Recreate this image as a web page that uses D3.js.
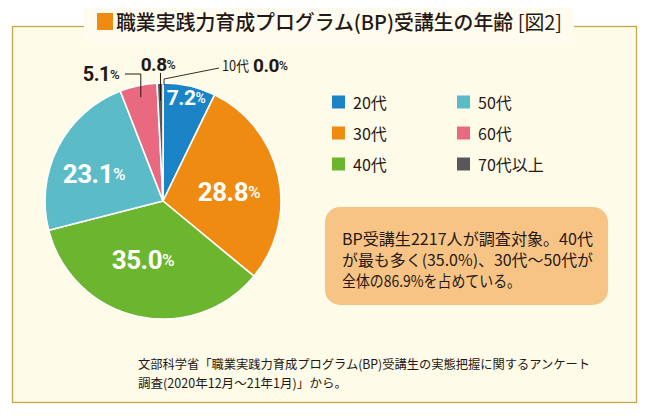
<!DOCTYPE html>
<html><head><meta charset="utf-8">
<script src="https://cdn.jsdelivr.net/npm/d3@7"></script>
<style>
html,body{margin:0;padding:0;background:#fff;}
svg{display:block;}
</style></head>
<body>
<script>
// ---- data ----
const categories = ["10代","20代","30代","40代","50代","60代","70代以上"];
const values = [0.0, 7.2, 28.8, 35.0, 23.1, 5.1, 0.8];
const legendOrder = ["20代","30代","40代","50代","60代","70代以上"];
const colors = ["#1b84c6","#1b84c6","#ef8b10","#6cb52e","#5bbcc8","#e96a80","#58585a"];
const titleText = "職業実践力育成プログラム(BP)受講生の年齢";
const titleFig = "[図2]";
const noteLines = ["BP受講生2217人が調査対象。40代","が最も多く(35.0%)、30代～50代が","全体の86.9%を占めている。"];
const sourceLines = ["文部科学省「職業実践力育成プログラム(BP)受講生の実態把握に関するアンケート","調査(2020年12月～21年1月)」から。"];

const W = 650, H = 416;
const svg = d3.select("body").append("svg").attr("width", W).attr("height", H);
const jp = "'Noto Sans CJK JP','Noto Sans',sans-serif";
const num = "'Roboto','Noto Sans',sans-serif";

// frame
svg.append("rect").attr("x",12.5).attr("y",26.5).attr("width",624).attr("height",376)
  .attr("fill","#fffbe9").attr("stroke","#c6a84c").attr("stroke-width",1.3);
// title cover
svg.append("rect").attr("x",84).attr("y",8).attr("width",490).attr("height",34).attr("fill","#fffcef");
svg.append("rect").attr("x",97).attr("y",13).attr("width",16).attr("height",17).attr("fill","#ef8b10");
const tt = svg.append("text").attr("x",116).attr("y",30).attr("font-family",jp).attr("font-size",20)
  .attr("fill","#231815").attr("textLength",446).attr("lengthAdjust","spacingAndGlyphs");
tt.append("tspan").attr("font-weight",500).text(titleText + " ");
tt.append("tspan").attr("font-weight",400).text(titleFig);

// pie
const cx = 163, cy = 201, R = 118;
const g = svg.append("g").attr("transform",`translate(${cx},${cy})`);
const pie = d3.pie().sort(null).value(d => d.v);
const data = categories.map((c,i)=>({c, v: values[i], col: colors[i]}));
const arcs = pie(data);
const arc = d3.arc().innerRadius(0).outerRadius(R);
g.selectAll("path").data(arcs.filter(a=>a.data.v>0)).join("path")
  .attr("d",arc).attr("fill",d=>d.data.col).attr("stroke","#fff").attr("stroke-width",1.6).attr("stroke-linejoin","round");

// inner labels (white)
const innerPos = {"20代":[23,-103,21],"30代":[66,-9,26],"40代":[-20,59,26],"50代":[-69,-27,26]};
function pctLabel(sel, x, y, val, size, color, anchor){
  const t = sel.append("text").attr("x",x).attr("y",y).attr("text-anchor",anchor||"middle")
    .attr("dominant-baseline","central").attr("font-family",num).attr("font-weight",700).attr("fill",color)
    .attr("letter-spacing",-0.5);
  t.append("tspan").attr("font-size",size).text(val.toFixed(1));
  t.append("tspan").attr("font-size",size*0.66).attr("font-weight",500).text("%");
  return t;
}
arcs.forEach(a=>{
  const p = innerPos[a.data.c];
  if(p) pctLabel(g, p[0], p[1], a.data.v, p[2], "#fff");
});

// outer labels with leaders
const outer = svg.append("g");
const v = c => values[categories.indexOf(c)];
const a60 = arcs[5], a70 = arcs[6], a10 = arcs[0];
const pt = (ang, r) => [cx + r*Math.sin(ang), cy - r*Math.cos(ang)];
// 5.1%
pctLabel(outer, 101, 74, v("60代"), 20, "#231815");
const p60 = pt((a60.startAngle+a60.endAngle)/2, R*0.9);
outer.append("path").attr("d",`M125,74H${p60[0]}V${p60[1]}`).attr("fill","none").attr("stroke","#231815").attr("stroke-width",1);
// 0.8%
pctLabel(outer, 158, 64, v("70代以上"), 19, "#231815");
const p70 = pt((a70.startAngle+a70.endAngle)/2, R*0.85);
outer.append("path").attr("d",`M${p70[0]},73V${p70[1]}`).attr("fill","none").attr("stroke","#231815").attr("stroke-width",1);
// 10代 0.0%
const p10 = pt(a10.startAngle, R+2);
outer.append("path").attr("d",`M${p10[0]+1},${p10[1]+4}L${p10[0]+1},${p10[1]-2}L219,68`).attr("fill","none").attr("stroke","#231815").attr("stroke-width",0.9);
outer.append("text").attr("x",222).attr("y",65).attr("dominant-baseline","central").attr("font-family",jp)
  .attr("font-size",14).attr("fill","#231815").attr("textLength",27).attr("lengthAdjust","spacingAndGlyphs").text(categories[0]);
pctLabel(outer, 253, 65, v("10代"), 19, "#231815", "start");

// legend
const lg = svg.append("g");
legendOrder.forEach((c,i)=>{
  const col = Math.floor(i/3), row = i%3;
  const x = 332 + col*125, y = 102 + row*31;
  lg.append("rect").attr("x",x).attr("y",y-6.5).attr("width",13).attr("height",13).attr("fill",colors[categories.indexOf(c)]);
  lg.append("text").attr("x",x+21).attr("y",y).attr("dominant-baseline","central").attr("font-family",jp)
    .attr("font-size",16).attr("fill","#231815").text(c);
});

// callout
svg.append("rect").attr("x",325).attr("y",207).attr("width",283).attr("height",98).attr("rx",15)
  .attr("fill","#f8c486");
const noteW = [251, 251, 179];
noteLines.forEach((l,i)=>{
  svg.append("text").attr("x",342).attr("y",238+i*21).attr("dominant-baseline","central")
    .attr("font-family",jp).attr("font-size",15.5).attr("fill","#231815")
    .attr("textLength",noteW[i]).attr("lengthAdjust","spacingAndGlyphs").text(l);
});

// source
const srcW = [452, 209];
sourceLines.forEach((l,i)=>{
  svg.append("text").attr("x",138).attr("y",363+i*19).attr("dominant-baseline","central")
    .attr("font-family",jp).attr("font-size",12.5).attr("fill","#231815")
    .attr("textLength",srcW[i]).attr("lengthAdjust","spacingAndGlyphs").text(l);
});
</script>
</body></html>
